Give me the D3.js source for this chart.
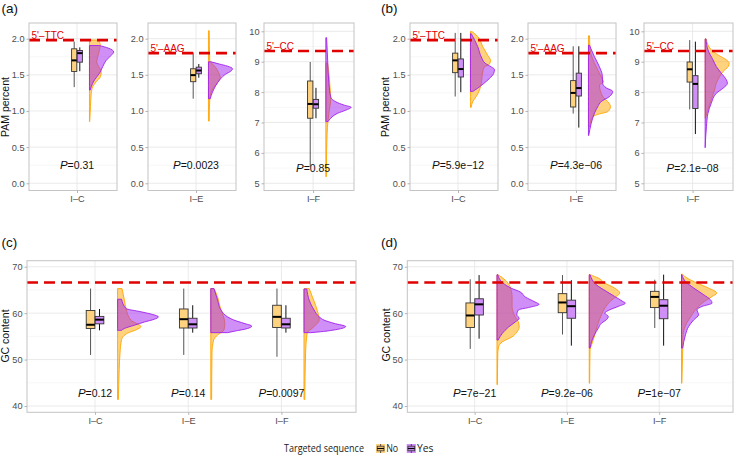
<!DOCTYPE html>
<html><head><meta charset="utf-8">
<script src="https://cdn.jsdelivr.net/npm/d3@7"></script>
<style>body{margin:0;background:#fff}</style></head>
<body><svg id="c" width="735" height="455"></svg>
<script>
// ---------------- DATA ----------------
const categories = ["I–C", "I–E", "I–F"];
const pamThresholds = [1.98, 1.80, 9.35];
const pamThresholdLabels = ["5'–TTC", "5'–AAG", "5'–CC"];
const pamTicksLow = [0, 0.5, 1.0, 1.5, 2.0];
const pamTicksCC = [5, 6, 7, 8, 9, 10];
const gcTicks = [40, 50, 60, 70];
const gcThreshold = 66.6;

// boxplot stats: [lower whisker, q1, median, q3, upper whisker]
const boxA_No  = [[1.33,1.547,1.70,1.86,1.96],[1.17,1.405,1.496,1.584,1.81],[5.55,7.14,7.61,8.365,8.99]];
const boxA_Yes = [[1.55,1.675,1.80,1.836,1.88],[1.46,1.515,1.56,1.606,1.65],[7.14,7.47,7.60,7.76,8.14]];
const boxB_No  = [[1.20,1.53,1.70,1.80,2.08],[0.964,1.055,1.25,1.42,1.895],[7.43,8.33,8.75,8.99,9.71]];
const boxB_Yes = [[1.26,1.47,1.58,1.72,2.08],[0.77,1.207,1.317,1.523,1.895],[6.62,7.46,8.27,8.54,9.66]];
const boxC_No  = [[51.0,56.7,57.5,60.58,65.3],[51.0,56.8,58.7,60.9,65.3],[50.6,56.9,59.2,61.7,65.3]];
const boxC_Yes = [[56.3,57.7,58.6,59.3,60.9],[55.8,56.8,57.6,58.9,61.7],[55.8,56.8,57.6,58.9,61.7]];
const boxD_No  = [[52.3,56.9,59.5,62.2,67.3],[55.4,60.1,62.3,64.2,68.2],[56.8,61.2,63.5,64.7,67.2]];
const boxD_Yes = [[54.5,59.6,61.9,63.1,68.2],[53.0,58.9,61.5,62.8,67.1],[53.0,58.8,61.6,62.9,68.3]];

// P values
const pA = ["0.31", "0.0023", "0.85"];
const pB = ["5.9e−12", "4.3e−06", "2.1e−08"];
const pC = ["0.12", "0.14", "0.0097"];
const pD = ["7e−21", "9.2e−06", "1e−07"];

// half-violin profiles: [value, relative density]
const violA_No = [
  [[1.982,0.36],[1.913,0.43],[1.843,0.40],[1.751,0.33],[1.682,0.29],[1.613,0.37],[1.544,0.47],[1.475,0.44],[1.406,0.27],[1.336,0.13],[1.244,0.07],[1.06,0.04],[0.853,0.01]],
  [[2.11,0.03],[1.70,0.05],[1.65,0.16],[1.60,0.29],[1.51,0.43],[1.465,0.47],[1.405,0.39],[1.336,0.23],[1.244,0.09],[1.152,0.05],[0.86,0.03]],
  [[8.95,0.07],[8.62,0.12],[8.18,0.16],[7.75,0.19],[7.53,0.16],[7.31,0.12],[7.04,0.08],[6.65,0.05],[6.10,0.03],[5.22,0.02]]
];
const violA_Yes = [
  [[1.905,0.40],[1.87,0.75],[1.816,0.97],[1.770,0.87],[1.700,0.67],[1.613,0.53],[1.521,0.40],[1.429,0.20],[1.336,0.07],[1.290,0.03]],
  [[1.68,0.10],[1.65,0.43],[1.62,0.76],[1.585,0.96],[1.55,0.89],[1.51,0.69],[1.44,0.47],[1.35,0.29],[1.26,0.16],[1.17,0.07]],
  [[9.79,0.03],[9.05,0.07],[8.28,0.12],[7.84,0.19],[7.68,0.39],[7.57,0.72],[7.50,0.99],[7.41,0.79],[7.30,0.45],[7.14,0.19],[7.03,0.09]]
];
const violB_No = [
  [[2.10,0.05],[2.03,0.29],[1.89,0.49],[1.77,0.69],[1.70,0.80],[1.65,0.76],[1.61,0.56],[1.54,0.49],[1.38,0.43],[1.29,0.36],[1.20,0.23],[1.13,0.09],[1.05,0.03]],
  [[2.04,0.04],[1.84,0.07],[1.61,0.31],[1.47,0.51],[1.40,0.60],[1.36,0.44],[1.20,0.57],[1.13,0.77],[1.06,0.88],[0.99,0.77],[0.96,0.44],[0.92,0.17],[0.78,0.04]],
  [[9.75,0.04],[9.39,0.24],[9.22,0.51],[9.06,0.84],[8.95,0.95],[8.84,0.91],[8.68,0.71],[8.51,0.57],[8.29,0.44],[8.07,0.37],[7.75,0.24],[7.43,0.11],[7.14,0.01]]
];
const violB_Yes = [
  [[2.07,0.03],[1.89,0.29],[1.75,0.43],[1.66,0.59],[1.61,0.83],[1.575,0.96],[1.52,0.93],[1.45,0.76],[1.38,0.53],[1.31,0.27],[1.27,0.09]],
  [[1.91,0.04],[1.75,0.24],[1.61,0.44],[1.50,0.55],[1.38,0.57],[1.32,0.71],[1.27,0.97],[1.20,0.84],[1.13,0.51],[1.06,0.37],[0.97,0.24],[0.83,0.11],[0.66,0.01]],
  [[9.75,0.03],[9.39,0.11],[9.06,0.31],[8.84,0.44],[8.62,0.64],[8.40,0.84],[8.29,0.88],[8.13,0.71],[7.96,0.44],[7.63,0.24],[7.30,0.11],[6.86,0.05],[6.17,0.0]]
];
const violC_No = [
  [[65.3,0.11],[62.8,0.17],[61.0,0.21],[58.5,0.33],[57.1,0.58],[56.4,0.46],[55.7,0.25],[54.3,0.10],[51.4,0.06],[47.8,0.04],[41.4,0.02]],
  [[65.3,0.08],[63.5,0.17],[61.4,0.23],[59.2,0.32],[57.8,0.35],[56.4,0.33],[55.3,0.17],[54.2,0.07],[51.4,0.03],[41.4,0.02]],
  [[65.3,0.13],[63.5,0.21],[61.7,0.29],[60.6,0.33],[58.5,0.38],[57.1,0.25],[55.7,0.08],[51.4,0.04],[41.4,0.02]]
];
const violC_Yes = [
  [[63.0,0.10],[61.0,0.21],[60.3,0.58],[59.7,0.88],[59.2,1.02],[58.7,0.92],[58.1,0.67],[57.4,0.42],[56.7,0.17],[56.3,0.10]],
  [[65.3,0.08],[62.8,0.17],[60.7,0.25],[59.2,0.42],[58.5,0.58],[57.8,0.83],[57.2,1.02],[56.7,0.92],[56.1,0.58],[55.8,0.42]],
  [[65.2,0.07],[62.8,0.13],[60.7,0.25],[59.2,0.38],[58.5,0.50],[57.8,0.75],[57.1,1.04],[56.5,0.83],[56.0,0.42],[55.8,0.17]]
];
const violD_No = [
  [[68.2,0.04],[67.1,0.21],[65.7,0.33],[63.5,0.38],[61.4,0.38],[59.2,0.46],[58.1,0.54],[57.0,0.56],[55.9,0.50],[54.9,0.38],[53.8,0.13],[52.7,0.04],[51.2,0.02],[44.6,0.01]],
  [[68.27,0.02],[67.56,0.23],[66.48,0.39],[65.4,0.64],[64.33,0.77],[63.6,0.68],[62.7,0.55],[61.8,0.45],[61.1,0.39],[59.7,0.31],[57.5,0.21],[55.3,0.14],[53.2,0.06],[52.1,0.02],[44.9,0.01]],
  [[68.4,0.02],[67.56,0.14],[66.48,0.39],[65.4,0.68],[64.33,0.89],[63.6,0.77],[62.88,0.64],[62.17,0.52],[61.45,0.43],[60.73,0.35],[59.3,0.24],[57.86,0.13],[55.34,0.04],[52.47,0.03],[44.9,0.01]]
];
const violD_Yes = [
  [[68.3,0.02],[66.5,0.15],[65.3,0.38],[64.6,0.58],[63.5,0.71],[62.4,0.96],[61.9,1.06],[61.2,0.79],[60.7,0.54],[59.6,0.50],[58.9,0.56],[58.1,0.46],[57.0,0.29],[55.6,0.13],[54.2,0.03]],
  [[68.27,0.02],[66.1,0.18],[64.7,0.43],[63.6,0.64],[62.5,0.85],[62.17,0.91],[61.45,0.73],[60.73,0.52],[60.0,0.39],[59.3,0.48],[58.57,0.43],[57.86,0.31],[56.78,0.23],[55.34,0.13],[53.9,0.06],[52.47,0.02]],
  [[68.3,0.01],[66.8,0.10],[65.4,0.31],[63.96,0.56],[62.88,0.73],[62.17,0.77],[61.45,0.52],[60.73,0.39],[59.65,0.43],[58.57,0.31],[57.14,0.18],[55.34,0.10],[52.47,0.03]]
];
const legendTitle = "Targeted sequence";
const legendLabels = ["No", "Yes"];

// ---------------- STYLE ----------------
const ORANGE = "#FFA500", PURPLE = "#A020F0";
const FONT = "'Liberation Sans', Arial, sans-serif";
const svg = d3.select("#c");
svg.append("rect").attr("width", 735).attr("height", 455).attr("fill", "#fff");

function facet(f) {
  const x = d3.scaleLinear().domain(f.xDomain).range([f.left, f.right]);
  const y = d3.scaleLinear().domain(f.yDomain).range([f.bottom, f.top]);
  const g = svg.append("g");
  const inY = v => v > f.yDomain[0] && v < f.yDomain[1];
  g.selectAll(null).data(f.minor.filter(inY)).join("line")
    .attr("x1", f.left).attr("x2", f.right).attr("y1", d => y(d)).attr("y2", d => y(d))
    .attr("stroke", "#F2F2F2").attr("stroke-width", 0.6);
  g.selectAll(null).data(f.ticks).join("line")
    .attr("x1", f.left).attr("x2", f.right).attr("y1", d => y(d)).attr("y2", d => y(d))
    .attr("stroke", "#E4E4E4").attr("stroke-width", 0.8);
  g.selectAll(null).data(f.cats).join("line")
    .attr("x1", (d, i) => x(i + 1)).attr("x2", (d, i) => x(i + 1)).attr("y1", f.top).attr("y2", f.bottom)
    .attr("stroke", "#E4E4E4").attr("stroke-width", 0.8);
  // violins
  f.cats.forEach((c, i) => {
    const base = i + 1 + f.violStart;
    [[f.violNo[i], ORANGE], [f.violYes[i], PURPLE]].forEach(([pts, col]) => {
      const area = d3.area().curve(d3.curveMonotoneY)
        .y(d => y(d[0])).x0(x(base)).x1(d => x(base + d[1] * f.violScale));
      g.append("path").datum(pts).attr("d", area)
        .attr("fill", col).attr("fill-opacity", 0.5)
        .attr("stroke", col).attr("stroke-width", 0.9);
    });
  });
  // boxes
  const bw = x(f.boxW) - x(0);
  f.cats.forEach((c, i) => {
    [[f.boxNo[i], -1, "#FFD280", "#555"], [f.boxYes[i], 1, "#CF8FF7", "#111"]].forEach(([b, s, fill, ln]) => {
      const cx = x(i + 1 + s * f.boxOff);
      g.append("line").attr("x1", cx).attr("x2", cx).attr("y1", y(b[0])).attr("y2", y(b[1]))
        .attr("stroke", ln).attr("stroke-width", 1);
      g.append("line").attr("x1", cx).attr("x2", cx).attr("y1", y(b[3])).attr("y2", y(b[4]))
        .attr("stroke", ln).attr("stroke-width", 1);
      g.append("rect").attr("x", cx - bw / 2).attr("y", y(b[3])).attr("width", bw)
        .attr("height", y(b[1]) - y(b[3])).attr("fill", fill).attr("stroke", "#333").attr("stroke-width", 0.9);
      g.append("line").attr("x1", cx - bw / 2).attr("x2", cx + bw / 2).attr("y1", y(b[2])).attr("y2", y(b[2]))
        .attr("stroke", "#000").attr("stroke-width", 2);
    });
  });
  // threshold
  g.append("line").attr("x1", f.left).attr("x2", f.right).attr("y1", y(f.thresh)).attr("y2", y(f.thresh))
    .attr("stroke", "#E00000").attr("stroke-width", 2.6).attr("stroke-dasharray", "11,6");
  if (f.threshLabel) {
    g.append("text").attr("x", f.left + 2.5).attr("y", y(f.thresh) - 1.5)
      .attr("font-family", FONT).attr("font-size", 10).attr("fill", "#E00000").text(f.threshLabel);
  }
  // P texts
  f.pTexts.forEach((p, i) => {
    const t = g.append("text").attr("x", x(i + 1)).attr("y", y(f.pY)).attr("dy", "0.35em")
      .attr("text-anchor", "middle").attr("font-family", FONT).attr("font-size", 10.5).attr("fill", "#111");
    t.append("tspan").attr("font-style", "italic").attr("font-size", 11.5).text("P");
    t.append("tspan").text("=" + p);
  });
  // border
  g.append("rect").attr("x", f.left).attr("y", f.top).attr("width", f.right - f.left).attr("height", f.bottom - f.top)
    .attr("fill", "none").attr("stroke", "#C4C4C4").attr("stroke-width", 1);
  // axes
  const ya = g.append("g").attr("transform", `translate(${f.left},0)`)
    .call(d3.axisLeft(y).tickValues(f.ticks).tickFormat(f.fmt).tickSize(2.5).tickPadding(2));
  const xa = g.append("g").attr("transform", `translate(0,${f.bottom})`)
    .call(d3.axisBottom(x).tickValues(f.cats.map((c, i) => i + 1)).tickFormat((d) => f.cats[d - 1]).tickSize(2.5).tickPadding(2.5));
  [ya, xa].forEach(a => {
    a.select(".domain").remove();
    a.selectAll("line").attr("stroke", "#B3B3B3");
    a.selectAll("text").attr("font-family", FONT).attr("font-size", 9.2).attr("fill", "#4D4D4D");
  });
}

const topRow = { top: 23, bottom: 190.5 };
const botRow = { top: 260.7, bottom: 412.3 };
const pamDomLow = [-0.1, 2.217], pamDomCC = [4.763, 10.273], gcDom = [38.64, 71.3];
const fmt1 = d3.format(".1f"), fmt0 = d3.format("d");

function pamPanel(lefts, rights, boxNo, boxYes, violNo, violYes, ps) {
  [0, 1, 2].forEach(k => {
    const cc = k === 2;
    facet({
      left: lefts[k], right: rights[k], top: topRow.top, bottom: topRow.bottom,
      xDomain: [0.4, 1.5], yDomain: cc ? pamDomCC : pamDomLow,
      ticks: cc ? pamTicksCC : pamTicksLow,
      minor: cc ? [5.5, 6.5, 7.5, 8.5, 9.5] : [0.25, 0.75, 1.25, 1.75, 2.25],
      fmt: cc ? fmt0 : fmt1,
      cats: [categories[k]], boxNo: [boxNo[k]], boxYes: [boxYes[k]],
      violNo: [violNo[k]], violYes: [violYes[k]], pTexts: [ps[k]], pY: cc ? 5.5 : 0.25,
      thresh: pamThresholds[k], threshLabel: pamThresholdLabels[k],
      boxOff: 0.035, boxW: 0.065, violStart: 0.156, violScale: 0.3125
    });
  });
}
pamPanel([29, 148, 264], [117, 236, 354], boxA_No, boxA_Yes, violA_No, violA_Yes, pA);
pamPanel([410, 528, 644], [498, 616, 733], boxB_No, boxB_Yes, violB_No, violB_Yes, pB);

function gcPanel(left, right, boxNo, boxYes, violNo, violYes, ps) {
  facet({
    left, right, top: botRow.top, bottom: botRow.bottom,
    xDomain: [0.27, 3.8], yDomain: gcDom, ticks: gcTicks, minor: [45, 55, 65], fmt: fmt0,
    cats: categories, boxNo, boxYes, violNo, violYes, pTexts: ps, pY: 42.8,
    thresh: gcThreshold, threshLabel: null,
    boxOff: 0.048, boxW: 0.093, violStart: 0.242, violScale: 0.43
  });
}
gcPanel(27, 356, boxC_No, boxC_Yes, violC_No, violC_Yes, pC);
gcPanel(407.3, 733, boxD_No, boxD_Yes, violD_No, violD_Yes, pD);

// panel tags & axis titles
[["(a)", 1.5, 13], ["(b)", 381, 13], ["(c)", 1.5, 247], ["(d)", 381, 247]].forEach(([t, x, y]) =>
  svg.append("text").attr("x", x).attr("y", y).attr("font-family", FONT).attr("font-size", 13.5).attr("fill", "#111").text(t));
[["PAM percent", 8.5, 107], ["PAM percent", 389, 107], ["GC content", 8.5, 336], ["GC content", 389.5, 335]].forEach(([t, x, y]) =>
  svg.append("text").attr("transform", `translate(${x},${y}) rotate(-90)`).attr("text-anchor", "middle")
    .attr("font-family", FONT).attr("font-size", 10.5).attr("fill", "#111").text(t));

// legend
const LFONT = "'Open Sans', 'Noto Sans', sans-serif";
const lg = svg.append("g");
lg.append("text").attr("x", 284).attr("y", 452).attr("font-family", LFONT)
  .attr("font-size", 10).attr("fill", "#222").attr("textLength", 80).attr("lengthAdjust", "spacingAndGlyphs").text(legendTitle);
const keyX = [376, 406.7], keyFill = ["#FFD280", "#CF8FF7"], labLen = [12, 16.5];
legendLabels.forEach((lab, i) => {
  const kx = keyX[i], ky = 444, kw = 9.2, kh = 9;
  lg.append("rect").attr("x", kx).attr("y", ky).attr("width", kw).attr("height", kh).attr("fill", keyFill[i]);
  lg.append("rect").attr("x", kx + 1.2).attr("y", ky + 2.2).attr("width", kw - 2.4).attr("height", kh - 4.4)
    .attr("fill", "none").attr("stroke", "#333").attr("stroke-width", 0.8);
  lg.append("line").attr("x1", kx + 1.2).attr("x2", kx + kw - 1.2).attr("y1", ky + kh / 2).attr("y2", ky + kh / 2)
    .attr("stroke", "#000").attr("stroke-width", 1.2);
  lg.append("line").attr("x1", kx + kw / 2).attr("x2", kx + kw / 2).attr("y1", ky).attr("y2", ky + 2.2).attr("stroke", "#333").attr("stroke-width", 0.8);
  lg.append("line").attr("x1", kx + kw / 2).attr("x2", kx + kw / 2).attr("y1", ky + kh - 2.2).attr("y2", ky + kh).attr("stroke", "#333").attr("stroke-width", 0.8);
  lg.append("text").attr("x", kx + kw + 1).attr("y", 452).attr("font-family", LFONT)
    .attr("font-size", 10).attr("fill", "#222").attr("textLength", labLen[i]).attr("lengthAdjust", "spacingAndGlyphs").text(lab);
});
</script></body></html>
